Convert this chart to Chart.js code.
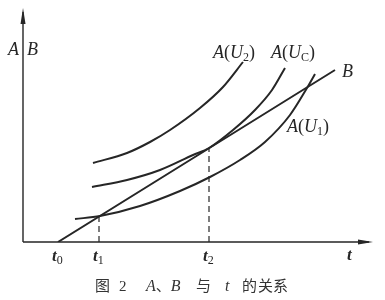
<!DOCTYPE html>
<html>
<head>
<meta charset="utf-8">
<script src="https://cdn.jsdelivr.net/npm/chart.js@4.4.1/dist/chart.umd.min.js"></script>
<style>
  html, body { margin: 0; padding: 0; background: #fff; }
  #wrap { width: 385px; height: 300px; }
</style>
</head>
<body>
<div id="wrap"><canvas id="c"></canvas></div>
<script>
// --- data (t on x, A/B on y, arbitrary units) ---
const tTicks = [3.5, 7.6, 18.6];
const tSubs = ['0', '1', '2'];
const dropTops = [2.6, 9.4];          // where the dashed guides meet B

const bX = [3.5, 31.2];
const bY = [0, 17.2];

const u1X = [5.2, 7.7, 11.7, 15.7, 18.7, 21.7, 24.2, 26.7, 28.4, 29.2];
const u1Y = [2.3, 2.6, 3.6, 5.1, 6.5, 8.2, 10.0, 12.7, 15.4, 16.8];

const ucX = [6.9, 10.4, 13.7, 17.0, 18.6, 21.0, 23.2, 24.9, 26.2];
const ucY = [5.5, 6.2, 7.2, 8.7, 9.4, 11.2, 13.2, 15.2, 17.4];

const u2X = [7.0, 10.4, 12.7, 14.7, 17.7, 20.0, 22.0];
const u2Y = [7.9, 8.9, 10.0, 11.2, 13.4, 15.5, 18.0];

const INK = '#262626';
const SERIF = '"Liberation Serif", "DejaVu Serif", serif';
const CJK = '"Noto Sans CJK SC", sans-serif';

const pts = (xs, ys) => xs.map((x, i) => ({ x, y: ys[i] }));

function curve(xs, ys) {
    return {
        data: pts(xs, ys),
        borderColor: INK,
        borderWidth: 2,
        pointRadius: 0,
        showLine: true,
        tension: 0.4,
        cubicInterpolationMode: 'monotone',
    };
}

function drop(i) {
    return {
        data: [{ x: tTicks[i + 1], y: 0 }, { x: tTicks[i + 1], y: dropTops[i] }],
        borderColor: INK,
        borderWidth: 1.2,
        borderDash: [6, 4],
        pointRadius: 0,
        showLine: true,
    };
}

// draw a run of [text, font, dy] pieces starting at x
function runText(ctx, parts, x, y) {
    parts.forEach(([txt, font, dy]) => {
        ctx.font = font;
        ctx.fillText(txt, x, y + (dy || 0));
        x += ctx.measureText(txt).width;
    });
}

const up = '18px ' + SERIF;
const itI = 'italic 18px ' + SERIF;
const sub = '12px ' + SERIF;
const tFont = 'italic bold 17px ' + SERIF;
const cap = '15px ' + CJK;
const capI = 'italic 16px ' + SERIF;

const decor = {
    id: 'decor',
    afterDatasetsDraw(chart) {
        const { ctx, chartArea: a, scales: { x } } = chart;
        ctx.save();
        ctx.strokeStyle = INK;
        ctx.fillStyle = INK;
        ctx.lineWidth = 1.4;

        // axes with arrow heads
        ctx.beginPath();
        ctx.moveTo(a.left, a.bottom);
        ctx.lineTo(a.right - 4, a.bottom);
        ctx.moveTo(a.left, a.bottom);
        ctx.lineTo(a.left, a.top + 4);
        ctx.stroke();
        ctx.beginPath();
        ctx.moveTo(a.right, a.bottom);
        ctx.lineTo(a.right - 15, a.bottom - 2.5);
        ctx.lineTo(a.right - 15, a.bottom + 2.5);
        ctx.closePath();
        ctx.fill();
        ctx.beginPath();
        ctx.moveTo(a.left, a.top);
        ctx.lineTo(a.left - 2.5, a.top + 16);
        ctx.lineTo(a.left + 2.5, a.top + 16);
        ctx.closePath();
        ctx.fill();

        ctx.textBaseline = 'alphabetic';
        // t ticks
        tTicks.forEach((v, i) => {
            const px = x.getPixelForValue(v);
            runText(ctx, [['t', tFont], [tSubs[i], sub, 3]], px - 6, 261);
        });
        runText(ctx, [['t', tFont]], 347, 260);

        // y axis label
        runText(ctx, [['A', itI]], 8, 55);
        runText(ctx, [['B', itI]], 27, 55);

        // curve labels
        runText(ctx, [['A', itI], ['(', up], ['U', itI], ['2', sub, 3], [')', up]], 213, 58);
        runText(ctx, [['A', itI], ['(', up], ['U', itI], ['C', sub, 3], [')', up]], 271, 58);
        runText(ctx, [['A', itI], ['(', up], ['U', itI], ['1', sub, 3], [')', up]], 287, 132);
        runText(ctx, [['B', itI]], 342, 77);

        // caption
        ctx.fillStyle = '#333';
        runText(ctx, [['图', cap]], 95, 291);
        runText(ctx, [['2', '15px ' + SERIF]], 119, 291);
        runText(ctx, [['A', capI], ['、', cap], ['B', capI]], 146, 291);
        runText(ctx, [['与', cap]], 196, 291);
        runText(ctx, [['t', capI]], 225, 291);
        runText(ctx, [['的', cap]], 242, 291);
        runText(ctx, [['关', cap]], 258, 291);
        runText(ctx, [['系', cap]], 273, 291);
        ctx.restore();
    }
};

new Chart(document.getElementById('c'), {
    type: 'scatter',
    data: {
        datasets: [
            curve(bX, bY),
            curve(u1X, u1Y),
            curve(ucX, ucY),
            curve(u2X, u2Y),
            drop(0),
            drop(1),
        ]
    },
    options: {
        responsive: true,
        maintainAspectRatio: false,
        animation: false,
        layout: { padding: { left: 23, right: 12, top: 8, bottom: 58 } },
        plugins: { legend: { display: false }, tooltip: { enabled: false } },
        scales: {
            x: { type: 'linear', min: 0, max: 35, display: false },
            y: { type: 'linear', min: 0, max: 23.4, display: false },
        }
    },
    plugins: [decor]
});
</script>
</body>
</html>
